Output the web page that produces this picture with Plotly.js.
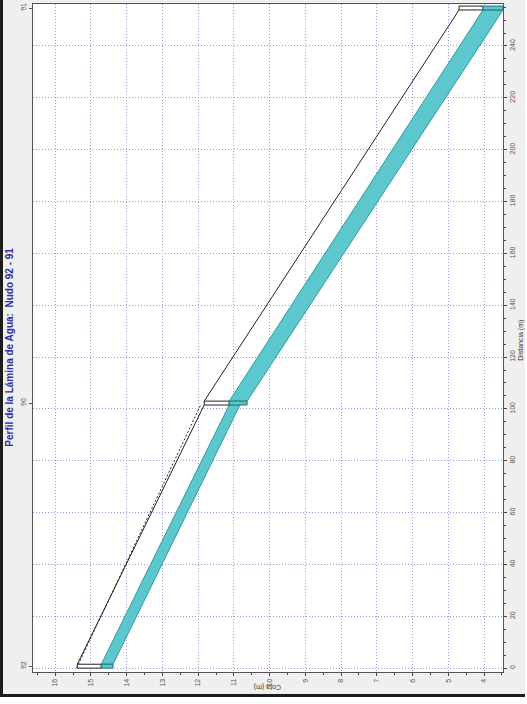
<!DOCTYPE html>
<html>
<head>
<meta charset="utf-8">
<script src="https://cdn.plot.ly/plotly-3.0.1.min.js"></script>
<style>
  html, body { margin: 0; padding: 0; background: #ffffff; overflow: hidden; }
  #wrap { position: absolute; left: 0; top: 0; width: 522px; height: 694px;
          border-left: 3px solid #1c1c1c; border-bottom: 3px solid #1c1c1c; background: #efefef; }
  #chart { width: 522px; height: 694px; }
</style>
</head>
<body>
<div id="wrap"><div id="chart"></div></div>
<script>
// ---- Data ----
var nodeNames   = ['92', '90', '91'];
var nodeDist    = [0.75, 102.25, 254.65];   // m, centre of manhole
var nodeTop     = [15.38, 11.83, 4.70];     // cota of manhole top (m)
var nodeWater   = [14.71, 11.13, 4.03];     // water level (m)
var nodeInvert  = [14.38, 10.63, 3.47];     // bottom (m)
var manholeLen  = 1.5;

var segStart       = [1.5, 103.0];
var segEnd         = [101.5, 253.9];
var segCrownStart  = [15.38, 11.83];
var segCrownEnd    = [11.83, 4.70];
var segWaterStart  = [14.71, 11.13];
var segWaterEnd    = [11.13, 4.03];
var segInvertStart = [14.38, 10.63];
var segInvertEnd   = [10.83, 3.47];

var energyDist = [0.0, 101.5];
var energyCota = [15.40, 11.93];

var cotaTicks = [16, 15, 14, 13, 12, 11, 10, 9, 8, 7, 6, 5, 4];
var distTicks = [0, 20, 40, 60, 80, 100, 120, 140, 160, 180, 200, 220, 240];

var teal = '#5cc7cd', tealLine = '#2f9aa2';

var traces = [];
// pipe segments
for (var i = 0; i < segStart.length; i++) {
  traces.push({
    x: [segWaterStart[i], segInvertStart[i], segInvertEnd[i], segWaterEnd[i], segWaterStart[i]],
    y: [segStart[i], segStart[i], segEnd[i], segEnd[i], segStart[i]],
    mode: 'lines', fill: 'toself', fillcolor: teal,
    line: {color: tealLine, width: 1}, hoverinfo: 'skip', showlegend: false
  });
  traces.push({
    x: [segCrownStart[i], segCrownEnd[i]],
    y: [segStart[i], segEnd[i]],
    mode: 'lines', line: {color: '#222', width: 1}, hoverinfo: 'skip', showlegend: false
  });
}
// energy / ground dashed line
traces.push({
  x: energyCota, y: energyDist, mode: 'lines',
  line: {color: '#222', width: 1, dash: '2px,2px'}, hoverinfo: 'skip', showlegend: false
});
// manholes
for (var j = 0; j < nodeNames.length; j++) {
  var d0 = nodeDist[j] - manholeLen / 2, d1 = nodeDist[j] + manholeLen / 2;
  traces.push({
    x: [nodeTop[j], nodeWater[j], nodeWater[j], nodeTop[j], nodeTop[j]],
    y: [d0, d0, d1, d1, d0],
    mode: 'lines', fill: 'toself', fillcolor: '#ffffff',
    line: {color: '#222', width: 1}, hoverinfo: 'skip', showlegend: false
  });
  traces.push({
    x: [nodeWater[j], nodeInvert[j], nodeInvert[j], nodeWater[j], nodeWater[j]],
    y: [d0, d0, d1, d1, d0],
    mode: 'lines', fill: 'toself', fillcolor: teal,
    line: {color: '#1f6f74', width: 1}, hoverinfo: 'skip', showlegend: false
  });
}
// invisible trace to carry node-label axis
traces.push({
  x: nodeInvert, y: nodeDist, yaxis: 'y2', mode: 'markers',
  marker: {opacity: 0}, hoverinfo: 'skip', showlegend: false
});

var tickFont = {family: 'Liberation Sans, Arial, sans-serif', size: 7, color: '#555'};
var gridCol = '#9a9ad8';
var yRange = [-1.5, 256.2];

var layout = {
  width: 522, height: 694,
  margin: {l: 30, r: 22, t: 4, b: 22},
  paper_bgcolor: '#efefef', plot_bgcolor: '#ffffff',
  showlegend: false,
  xaxis: {
    range: [16.62, 3.47], tickvals: cotaTicks, ticktext: cotaTicks.map(String),
    tickangle: -90, tickfont: tickFont, ticks: 'outside', ticklen: 3, tickcolor: '#444',
    showgrid: true, gridcolor: gridCol, griddash: '1px,2px', gridwidth: 1,
    showline: true, linecolor: '#555', mirror: true, zeroline: false,
    minor: {dtick: 0.5, ticks: 'outside', ticklen: 2, tickcolor: '#444', showgrid: false}
  },
  yaxis: {
    range: yRange, side: 'right', tickvals: distTicks, ticktext: distTicks.map(String),
    tickangle: -90, tickfont: tickFont, ticks: 'outside', ticklen: 3, tickcolor: '#444',
    showgrid: true, gridcolor: gridCol, griddash: '1px,2px', gridwidth: 1,
    showline: true, linecolor: '#555', mirror: true, zeroline: false,
    minor: {dtick: 5, ticks: 'outside', ticklen: 2, tickcolor: '#444', showgrid: false}
  },
  yaxis2: {
    range: yRange, overlaying: 'y', side: 'left', tickvals: nodeDist, ticktext: nodeNames,
    tickangle: -90, tickfont: tickFont, ticks: 'outside', ticklen: 3, tickcolor: '#555',
    showgrid: false, zeroline: false, showline: false
  },
  annotations: [
    {text: '<b>Perfil de la Lámina de Agua:  Nudo 92 - 91</b>', xref: 'paper', yref: 'paper',
     x: -0.049, y: 0.487, textangle: -90, showarrow: false, xanchor: 'center', yanchor: 'middle',
     font: {family: 'Liberation Sans, Arial, sans-serif', size: 10, color: '#2e2ea8'}},
    {text: 'Cota (m)', xref: 'paper', yref: 'paper', x: 0.5, y: -0.0235, textangle: 180,
     showarrow: false, xanchor: 'center', yanchor: 'middle',
     font: {family: 'Liberation Sans, Arial, sans-serif', size: 7, color: '#333'}},
    {text: 'Distancia (m)', xref: 'paper', yref: 'paper', x: 1.038, y: 0.497, textangle: -90,
     showarrow: false, xanchor: 'center', yanchor: 'middle',
     font: {family: 'Liberation Sans, Arial, sans-serif', size: 7, color: '#333'}}
  ]
};

Plotly.newPlot('chart', traces, layout, {displayModeBar: false, staticPlot: true});
</script>
</body>
</html>
